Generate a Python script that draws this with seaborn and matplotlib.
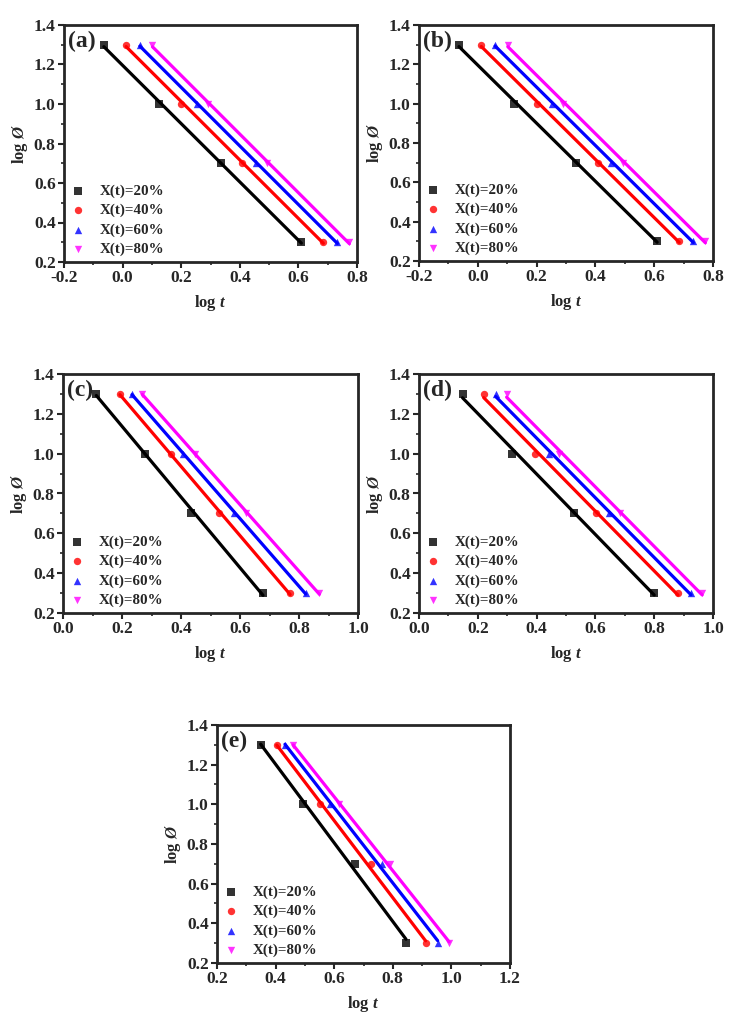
import numpy as np
import matplotlib
matplotlib.use('Agg')
import matplotlib.pyplot as plt
import seaborn as sns
from matplotlib.ticker import MultipleLocator, FormatStrFormatter

# data: log t at log phi = 1.3, 1.0, 0.7, 0.3
log_phi = [1.3, 1.0, 0.7, 0.3]
series_labels = ['X(t)=20%', 'X(t)=40%', 'X(t)=60%', 'X(t)=80%']

panel_a = [[-0.064, 0.124, 0.335, 0.610],
           [0.012, 0.201, 0.409, 0.685],
           [0.059, 0.253, 0.454, 0.733],
           [0.102, 0.291, 0.494, 0.774]]
panel_b = [[-0.064, 0.124, 0.335, 0.610],
           [0.012, 0.201, 0.409, 0.685],
           [0.059, 0.253, 0.454, 0.733],
           [0.102, 0.291, 0.494, 0.774]]
panel_c = [[0.113, 0.278, 0.435, 0.678],
           [0.193, 0.365, 0.528, 0.770],
           [0.234, 0.408, 0.580, 0.823],
           [0.269, 0.448, 0.620, 0.869]]
panel_d = [[0.148, 0.318, 0.526, 0.800],
           [0.220, 0.394, 0.602, 0.881],
           [0.261, 0.443, 0.647, 0.925],
           [0.298, 0.476, 0.684, 0.963]]
panel_e = [[0.349, 0.495, 0.672, 0.845],
           [0.404, 0.550, 0.725, 0.912],
           [0.432, 0.587, 0.762, 0.953],
           [0.460, 0.615, 0.790, 0.992]]

panel_names = ['(a)', '(b)', '(c)', '(d)', '(e)']
xlims = [(-0.2, 0.8), (-0.2, 0.8), (0.0, 1.0), (0.0, 1.0), (0.2, 1.2)]

colors = ['black', '#ff0000', '#0000ff', '#ff00ff']
markers = ['s', 'o', '^', 'v']

sns.set_style('ticks')
plt.rcParams['font.family'] = ['Liberation Serif', 'DejaVu Serif']
plt.rcParams['font.weight'] = 'bold'
plt.rcParams['mathtext.fontset'] = 'custom'
plt.rcParams['mathtext.it'] = 'Liberation Serif:bold:italic'
plt.rcParams['mathtext.rm'] = 'Liberation Serif:bold'

W, H = 729, 1018
fig = plt.figure(figsize=(W / 100, H / 100), dpi=100)

# axes boxes in pixels: left, right, top, bottom
boxes = [(64, 357, 25, 262), (419, 713, 25, 261),
         (63, 358, 374, 613), (419, 713, 374, 613),
         (217, 510, 725, 963)]

data = [panel_a, panel_b, panel_c, panel_d, panel_e]

for name, xl, box, pdata in zip(panel_names, xlims, boxes, data):
    l, r, t, b = box
    ax = fig.add_axes([l / W, 1 - b / H, (r - l) / W, (b - t) / H])
    for xs, lab, c, m in zip(pdata, series_labels, colors, markers):
        sns.regplot(x=np.array(xs), y=np.array(log_phi), ax=ax, ci=None,
                    truncate=True, color=c, marker=m, label=lab,
                    scatter_kws={'s': 28, 'zorder': 3, 'linewidths': 0},
                    line_kws={'lw': 2.3, 'zorder': 2})
    ax.set_xlim(*xl)
    ax.set_ylim(0.2, 1.4)
    ax.xaxis.set_major_locator(MultipleLocator(0.2))
    ax.xaxis.set_minor_locator(MultipleLocator(0.1))
    ax.yaxis.set_major_locator(MultipleLocator(0.2))
    ax.yaxis.set_minor_locator(MultipleLocator(0.1))
    ax.xaxis.set_major_formatter(FormatStrFormatter('%.1f'))
    ax.yaxis.set_major_formatter(FormatStrFormatter('%.1f'))
    ax.tick_params(which='major', direction='out', length=4, width=1.5,
                   labelsize=12.5, pad=2)
    ax.tick_params(which='minor', direction='out', length=2.5, width=1.2)
    for s in ax.spines.values():
        s.set_linewidth(2)
        s.set_visible(True)
    for lbl in ax.get_xticklabels() + ax.get_yticklabels():
        lbl.set_fontweight('bold')
    ax.set_xlabel(r'log $t$', fontsize=12, fontweight='bold', labelpad=5)
    ax.set_ylabel(r'log $Ø$', fontsize=12, fontweight='bold', labelpad=3)
    ax.text(0.015, 0.975, name, transform=ax.transAxes, fontsize=17,
            fontweight='bold', va='top', ha='left')
    leg = ax.legend(loc='lower left', frameon=False, fontsize=10.8,
                    handletextpad=0.85, labelspacing=0.38,
                    borderaxespad=0.0, handlelength=1.1,
                    bbox_to_anchor=(0.0, 0.0))
    for txt in leg.get_texts():
        txt.set_fontweight('bold')

fig.savefig('out.png', dpi=100, facecolor='white')
